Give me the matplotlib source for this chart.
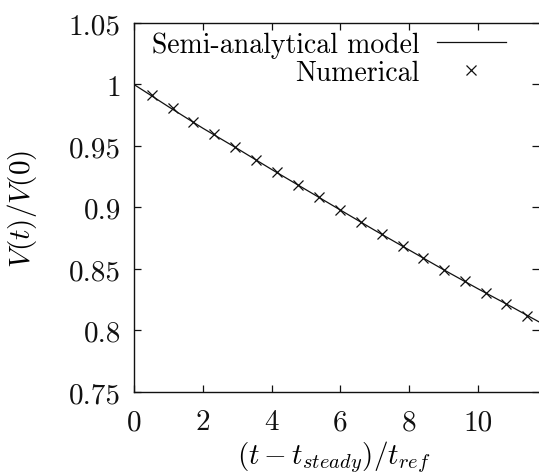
import numpy as np
import matplotlib
matplotlib.use("Agg")
import matplotlib.pyplot as plt

# semi-analytical model curve
model_t = [0, 1, 2, 3, 4, 5, 6, 7, 8, 9, 10, 11, 11.8]
model_v = [1.0, 0.982, 0.9645, 0.948, 0.931, 0.9145, 0.898, 0.8815,
           0.8655, 0.8495, 0.834, 0.819, 0.8067]

# numerical points
num_t = [0.51, 1.12, 1.73, 2.34, 2.95, 3.56, 4.17, 4.78, 5.38, 5.99,
         6.6, 7.2, 7.81, 8.41, 9.01, 9.62, 10.23, 10.83, 11.44]
num_v = [0.9915, 0.9806, 0.9698, 0.9598, 0.9494, 0.9389, 0.9286, 0.9185,
         0.9083, 0.8982, 0.8885, 0.8787, 0.8689, 0.8592, 0.8494, 0.8402,
         0.8307, 0.8213, 0.8120]

x_ticks = [0, 2, 4, 6, 8, 10]
y_ticks = [0.75, 0.8, 0.85, 0.9, 0.95, 1.0, 1.05]
y_tick_labels = ["0.75", "0.8", "0.85", "0.9", "0.95", "1", "1.05"]

plt.rcParams["font.family"] = "serif"
plt.rcParams["font.serif"] = ["cmr10"]
plt.rcParams["mathtext.fontset"] = "cm"
plt.rcParams["axes.formatter.use_mathtext"] = True

FS = 21
INK = "#111111"

fig = plt.figure(figsize=(5.39, 4.77), dpi=100)
ax = fig.add_axes([0.2486, 0.1761, 0.7514, 0.7736])

ax.plot(model_t, model_v, color=INK, linewidth=0.9, label="Semi-analytical model")
ax.plot(num_t, num_v, linestyle="none", marker="x", markersize=7,
        markeredgewidth=0.9, color=INK, label="Numerical")

ax.set_xlim(0, 11.78)
ax.set_ylim(0.75, 1.05)
ax.set_xticks(x_ticks)
ax.set_xticklabels([str(t) for t in x_ticks])
ax.set_yticks(y_ticks)
ax.set_yticklabels(y_tick_labels)

ax.tick_params(direction="in", length=5, width=0.9, top=True, right=True,
               labelsize=FS, colors=INK)
ax.tick_params(axis="y", pad=9.5)
ax.tick_params(axis="x", pad=12)

for s in ["left", "bottom", "top"]:
    ax.spines[s].set_linewidth(1.0)
    ax.spines[s].set_color(INK)
ax.spines["right"].set_visible(False)

ax.set_xlabel(r"$(t-t_{steady})/t_{ref}$", fontsize=FS, va="bottom")
ax.set_ylabel(r"$V(t)/V(0)$", fontsize=FS, va="center")
ax.xaxis.set_label_coords(0.494, -0.222)
ax.yaxis.set_label_coords(-0.277, 0.5)

leg = ax.legend(loc="upper right", frameon=False, fontsize=20,
                markerfirst=False, handlelength=2.5, handletextpad=0.62,
                borderpad=0.0, borderaxespad=0.0, labelspacing=0.05,
                bbox_to_anchor=(0.9185, 0.977))

fig.savefig("out.png", dpi=100)
